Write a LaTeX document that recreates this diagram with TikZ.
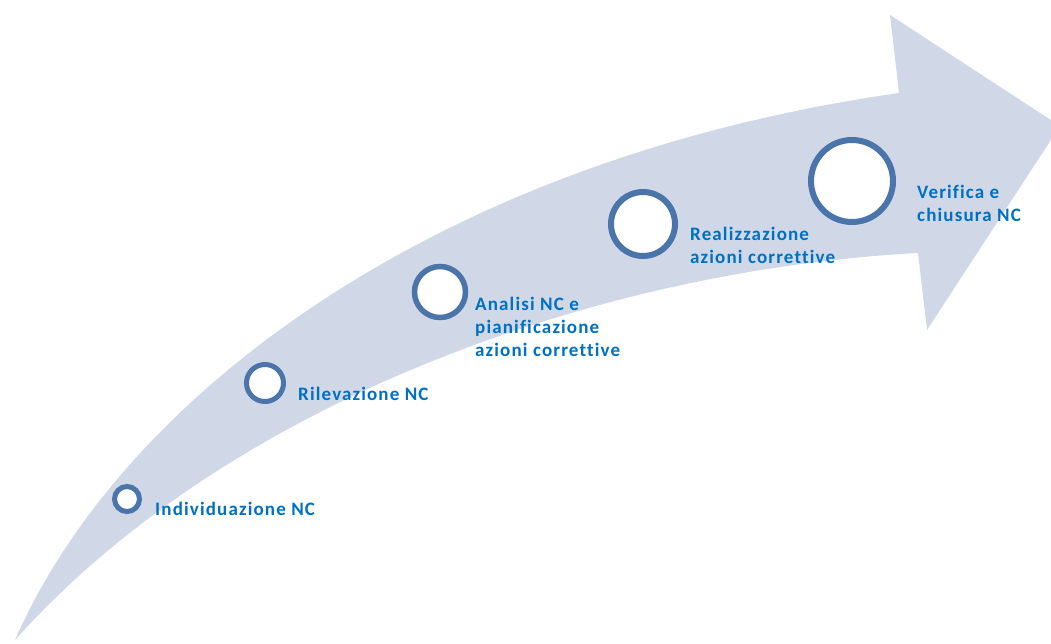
\documentclass[tikz,border=0pt]{standalone}
\usepackage{fontspec}
\setmainfont{Carlito}[Ligatures=NoCommon, LetterSpace=6]
\usetikzlibrary{shadows}
\definecolor{bandblue}{HTML}{D0D8E8}
\definecolor{ringblue}{HTML}{4A74AA}
\definecolor{textblue}{HTML}{0070C0}

\begin{document}
\begin{tikzpicture}[x=1pt,y=-1pt]
\tikzstyle{ring}=[circle, draw=ringblue, fill=white, line width=5pt, inner sep=0pt, drop shadow={opacity=0.25, shadow xshift=1pt, shadow yshift=-2pt}]
\tikzstyle{steplabel}=[anchor=base west, inner sep=0pt, text=textblue, font=\bfseries\fontsize{19}{23}\selectfont, align=left]
\useasboundingbox (0,0) rectangle (1051,643);
\clip (0,0) rectangle (1051,643);
  % curved band with the head
  \fill[bandblue] (15,640) .. controls (120,400) and (430,160) .. (899,93)
     -- (890,15) -- (1060,126) -- (927,330) -- (918,253)
     .. controls (600,270) and (230,400) .. (15,640) -- cycle;
  % steps
  \node[ring, minimum size=25pt] (ind) at (127,499) {};
  \node[ring, minimum size=37pt] (ril) at (265,383) {};
  \node[ring, minimum size=51pt, line width=5.5pt] (ana) at (440,292) {};
  \node[ring, minimum size=64pt, line width=6pt] (rea) at (643,224) {};
  \node[ring, minimum size=82pt, line width=6pt] (ver) at (852,181) {};
  % labels (base = last line)
  \node[steplabel] (indtxt) at (155,515) {Individuazione NC};
  \node[steplabel] (riltxt) at (298,400) {Rilevazione NC};
  \node[steplabel] (anatxt) at (475,356) {Analisi NC e\\pianificazione\\azioni correttive};
  \node[steplabel] (reatxt) at (690,263) {Realizzazione\\azioni correttive};
  \node[steplabel] (vertxt) at (917,221) {Verifica e\\chiusura NC};
\end{tikzpicture}
\end{document}
